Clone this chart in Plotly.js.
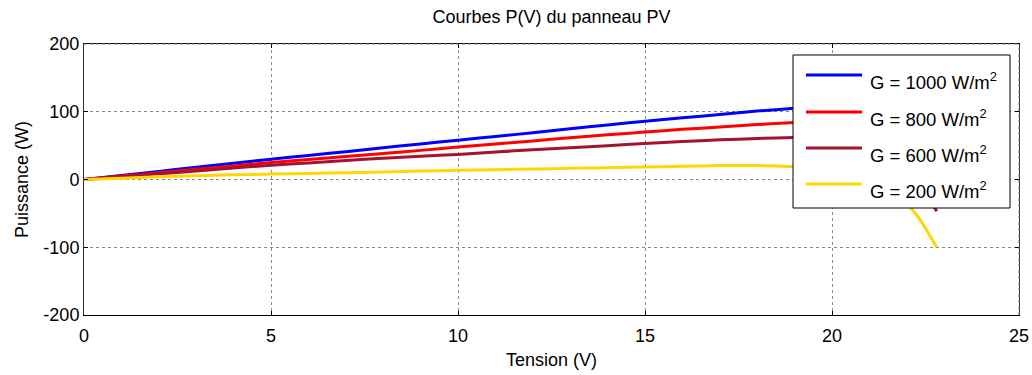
<!DOCTYPE html>
<html>
<head>
<meta charset="utf-8">
<script src="https://cdn.plot.ly/plotly-3.0.1.min.js"></script>
<style>
  html, body { margin: 0; padding: 0; background: #fff; }
  #chart { width: 1032px; height: 375px; }
</style>
</head>
<body>
<div id="chart"></div>
<script>
// Tension du panneau (V)
const tension = [0, 1, 2, 3, 4, 5, 6, 7, 8, 9, 10, 11, 12, 13, 14, 15, 16, 17, 18, 19, 20, 21, 21.5, 22, 22.3, 22.5, 22.8];

// Puissance (W) pour chaque éclairement
const p1000 = [0, 6, 12, 18, 24, 30, 35.5, 41, 47, 52.5, 58, 63.5, 69, 75, 80.5, 86, 91, 96, 101, 105, 108, 100, 90, 70, 55, 40, 15];
const p800  = [0, 5, 10, 15, 20, 25, 29.5, 34, 38.5, 43, 48, 52.5, 57, 61.5, 66, 70, 74, 77.5, 81, 84, 85, 78, 68, 48, 32, 20, -2];
const p600  = [0, 4, 8.5, 12.5, 17, 21, 24.5, 28, 31.5, 34.5, 37, 40.5, 44, 47, 50, 53, 56, 58.5, 60.5, 62, 61, 52, 40, 18, 0, -18, -47];
const p200  = [0, 2, 4, 5.5, 7, 8, 9, 10, 11, 12.5, 13.5, 14.5, 15.5, 16.5, 17.5, 18.5, 19.5, 20.5, 20.5, 19, 15, 2, -12, -36, -55, -72, -100];

const seriesNames = ['G = 1000 W/m<sup>2</sup>', 'G = 800 W/m<sup>2</sup>', 'G = 600 W/m<sup>2</sup>', 'G = 200 W/m<sup>2</sup>'];
const seriesValues = [p1000, p800, p600, p200];
const seriesColors = ['#0000FF', '#FF0000', '#A2142F', '#FFD700'];

const FONT = 'Arial, "Liberation Sans", sans-serif';

const traces = seriesValues.map((vals, i) => ({
  x: tension,
  y: vals,
  type: 'scatter',
  mode: 'lines',
  name: seriesNames[i],
  showlegend: false,
  line: { color: seriesColors[i], width: 3, shape: 'spline', smoothing: 0.4 }
}));

// Boxed legend in the upper right corner of the axes (paper coordinates)
const legendBox = { x0: 0.7583, x1: 0.9904, y0: 0.3948, y1: 0.9594 };
const legendRows = [0.8856, 0.7491, 0.6162, 0.4834];
const legendLine = { x0: 0.7722, x1: 0.8321 };
const legendTextX = 0.8385;

const shapes = [
  // top and right box edges drawn dotted
  { type: 'line', xref: 'paper', yref: 'paper', x0: 0, x1: 1, y0: 1, y1: 1,
    line: { color: '#777', width: 1, dash: 'dot' } },
  { type: 'line', xref: 'paper', yref: 'paper', x0: 1, x1: 1, y0: 0, y1: 1,
    line: { color: '#777', width: 1, dash: 'dot' } },
  { type: 'rect', xref: 'paper', yref: 'paper', layer: 'above',
    x0: legendBox.x0, x1: legendBox.x1, y0: legendBox.y0, y1: legendBox.y1,
    fillcolor: '#fff', line: { color: '#000', width: 1 } }
];
const annotations = [];
seriesNames.forEach((name, i) => {
  shapes.push({ type: 'line', xref: 'paper', yref: 'paper', layer: 'above',
    x0: legendLine.x0, x1: legendLine.x1, y0: legendRows[i], y1: legendRows[i],
    line: { color: seriesColors[i], width: 3 } });
  annotations.push({ xref: 'paper', yref: 'paper', x: legendTextX, y: legendRows[i],
    xanchor: 'left', yanchor: 'middle', yshift: -6, showarrow: false, text: name,
    font: { family: FONT, size: 18.5, color: '#000' } });
});

const axisFont = { family: FONT, size: 18, color: '#000' };

const layout = {
  width: 1032,
  height: 375,
  margin: { l: 84, r: 13, t: 44, b: 60 },
  paper_bgcolor: '#fff',
  plot_bgcolor: '#fff',
  font: axisFont,
  showlegend: false,
  title: {
    text: 'Courbes P(V) du panneau PV',
    font: { family: FONT, size: 18, color: '#000' },
    xref: 'paper', x: 0.5, xanchor: 'center',
    yref: 'container', y: 0.955, yanchor: 'middle'
  },
  xaxis: {
    range: [0, 25],
    tickvals: [0, 5, 10, 15, 20, 25],
    ticktext: ['0', '5', '10', '15', '20', '25'],
    showgrid: true, gridcolor: '#8a8a8a', griddash: 'dot', gridwidth: 1,
    zeroline: false,
    showline: true, linecolor: '#000', linewidth: 1,
    ticks: 'inside', ticklen: 4, tickcolor: '#000',
    mirror: 'ticks',
    ticklabelstandoff: 4,
    tickfont: axisFont,
    title: { text: 'Tension (V)', font: axisFont, standoff: 8 }
  },
  yaxis: {
    range: [-200, 200],
    tickvals: [-200, -100, 0, 100, 200],
    ticktext: ['-200', '-100', '0', '100', '200'],
    showgrid: true, gridcolor: '#8a8a8a', griddash: 'dot', gridwidth: 1,
    zeroline: false,
    showline: true, linecolor: '#333', linewidth: 1,
    ticks: 'inside', ticklen: 4, tickcolor: '#000',
    mirror: 'ticks',
    tickfont: axisFont,
    title: { text: 'Puissance (W)', font: axisFont, standoff: 10 }
  },
  shapes: shapes,
  annotations: annotations
};

Plotly.newPlot('chart', traces, layout, { displayModeBar: false, staticPlot: true });
</script>
</body>
</html>
